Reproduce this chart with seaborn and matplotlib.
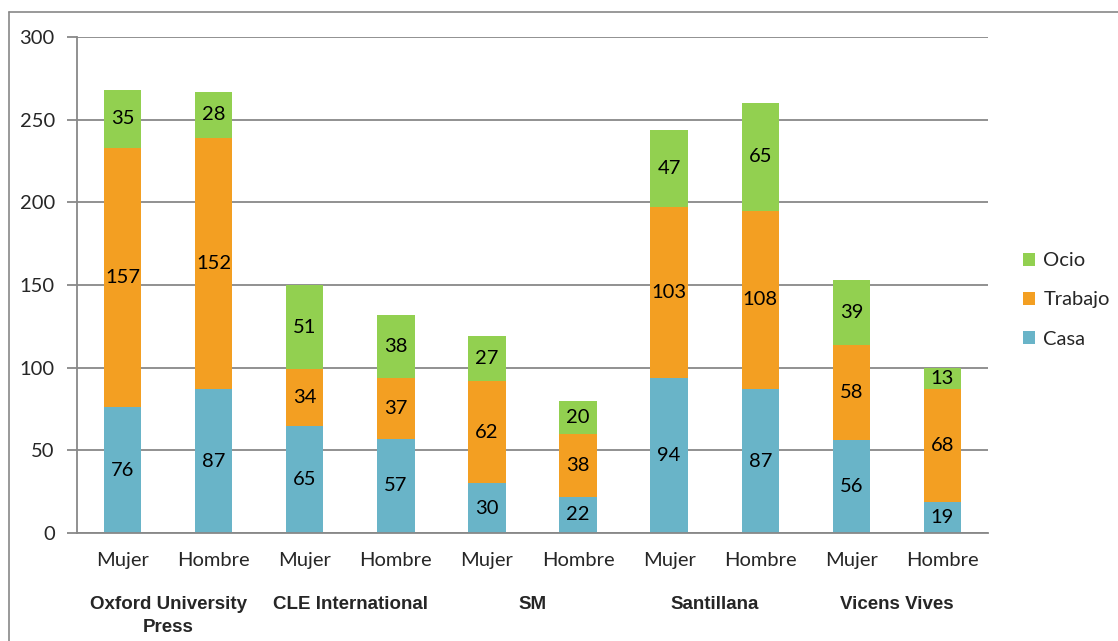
import matplotlib
matplotlib.use("Agg")
import matplotlib.pyplot as plt
import seaborn as sns
import pandas as pd
import numpy as np
from matplotlib.lines import Line2D
from matplotlib.patches import Patch
import matplotlib.transforms as mtransforms

publishers = ["Oxford University\nPress", "CLE International", "SM", "Santillana", "Vicens Vives"]
genders = ["Mujer", "Hombre"]
casa = [76, 87, 65, 57, 30, 22, 94, 87, 56, 19]
trabajo = [157, 152, 34, 37, 62, 38, 103, 108, 58, 68]
ocio = [35, 28, 51, 38, 27, 20, 47, 65, 39, 13]
yticks = [0, 50, 100, 150, 200, 250, 300]

c_casa = "#69B4C8"
c_trab = "#F39F22"
c_ocio = "#92D050"
grey = "#888888"

sns.set_theme(style="white")
plt.rcParams['font.family'] = ['Lato', 'DejaVu Sans']

labels = [f"{g}{i}" for i in range(len(publishers)) for g in genders]
df = pd.DataFrame({
    "bar": labels,
    "casa": casa,
    "trabajo": trabajo,
    "ocio": ocio,
})
df["c1"] = df["casa"]
df["c2"] = df["casa"] + df["trabajo"]
df["c3"] = df["c2"] + df["ocio"]

fig = plt.figure(figsize=(11.18, 6.41), dpi=100)
ax = fig.add_axes([77/1118, 1-533/641, (988-77)/1118, (533-37)/641])

for col, color in [("c3", c_ocio), ("c2", c_trab), ("c1", c_casa)]:
    sns.barplot(data=df, x="bar", y=col, order=labels, color=color, width=0.41,
                saturation=1, ax=ax, errorbar=None, linewidth=0)

# data labels
fs = 14.5
for i, row in df.iterrows():
    ax.text(i, row["casa"]/2, str(row["casa"]), ha="center", va="center", fontsize=fs, color="black")
    ax.text(i, row["casa"] + row["trabajo"]/2, str(row["trabajo"]), ha="center", va="center", fontsize=fs, color="black")
    ax.text(i, row["c2"] + row["ocio"]/2, str(row["ocio"]), ha="center", va="center", fontsize=fs, color="black")

ax.set_ylim(0, 300)
ax.set_xlim(-0.5, len(labels)-0.5)
ax.set_yticks(yticks)
ax.set_yticklabels([str(t) for t in yticks], fontsize=fs)
ax.yaxis.grid(True, color=grey, linewidth=1.3)
ax.set_axisbelow(True)
ax.set_xlabel("")
ax.set_ylabel("")

ax.set_xticks(range(len(labels)))
ax.set_xticklabels([g for _ in publishers for g in genders], fontsize=fs)
ax.set_xticks(np.arange(-0.5, len(labels), 1.0), minor=True)
ax.tick_params(axis="x", which="major", length=0, pad=14)
ax.tick_params(axis="x", which="minor", length=7, color=grey, width=1.3, direction="out")
ax.tick_params(axis="y", length=7, color=grey, width=1.3, direction="out", pad=9, left=True)

for s in ["top", "right"]:
    ax.spines[s].set_visible(False)
for s in ["left", "bottom"]:
    ax.spines[s].set_color(grey)
    ax.spines[s].set_linewidth(1.3)

trans = mtransforms.blended_transform_factory(ax.transData, fig.transFigure)
for k, p in enumerate(publishers):
    ax.text(2*k + 0.5, 1-596/641, p, transform=trans, ha="center", va="top",
            fontsize=13.5, fontweight="bold", family=["Liberation Sans", "DejaVu Sans"],
            linespacing=1.45)

handles = [Patch(facecolor=c_ocio, edgecolor="none", label="Ocio"),
           Patch(facecolor=c_trab, edgecolor="none", label="Trabajo"),
           Patch(facecolor=c_casa, edgecolor="none", label="Casa")]
fig.legend(handles=handles, loc="center left", bbox_to_anchor=(1005/1118, 1-300/641),
           frameon=False, fontsize=fs, handlelength=0.6, handleheight=0.6,
           handletextpad=0.4, labelspacing=1.1)

# outer border (left and top)
fig.add_artist(Line2D([9/1118, 9/1118], [0, 1-12/641], transform=fig.transFigure, color=grey, linewidth=1.2))
fig.add_artist(Line2D([9/1118, 1], [1-12/641, 1-12/641], transform=fig.transFigure, color=grey, linewidth=1.2))

fig.savefig("out.png", dpi=100)
